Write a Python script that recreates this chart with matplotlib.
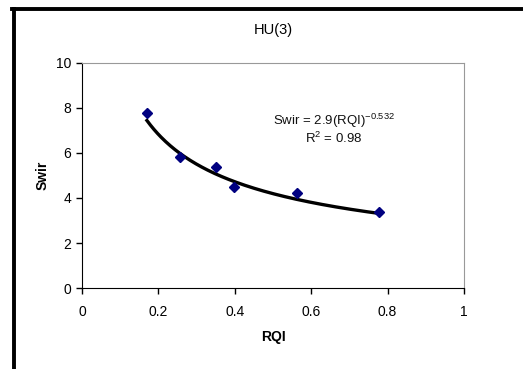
import numpy as np
import matplotlib.pyplot as plt
from matplotlib.lines import Line2D

plt.rcParams['font.family'] = ['Liberation Sans', 'DejaVu Sans']
plt.rcParams['mathtext.fontset'] = 'custom'
plt.rcParams['mathtext.rm'] = 'Liberation Sans'

# data
rqi = [0.17, 0.257, 0.35, 0.398, 0.562, 0.778]
swir = [7.77, 5.83, 5.39, 4.51, 4.21, 3.36]

# power trend line shown in the chart
coef_a = 2.9
coef_b = -0.532
r2 = 0.98

x_ticks = [0, 0.2, 0.4, 0.6, 0.8, 1]
y_ticks = [0, 2, 4, 6, 8, 10]

fig = plt.figure(figsize=(5.23, 3.69), dpi=100)
ax = fig.add_axes([0.1568, 0.2195, 0.7304, 0.6098])

xs = np.linspace(min(rqi), max(rqi), 200)
ax.plot(xs, coef_a * xs ** coef_b, color='black', lw=2.4, zorder=2)
ax.plot(rqi, swir, linestyle='none', marker='D', markersize=5,
        color='#000080', zorder=3)

ax.set_xlim(0, 1)
ax.set_ylim(0, 10)
ax.set_xticks(x_ticks)
ax.set_xticklabels(['0', '0.2', '0.4', '0.6', '0.8', '1'])
ax.set_yticks(y_ticks)
ax.tick_params(direction='out', length=4, width=1, labelsize=10, pad=8)
ax.tick_params(axis='y', pad=4)

for s in ['top', 'right']:
    ax.spines[s].set_color('#999999')
for s in ['left', 'bottom']:
    ax.spines[s].set_color('black')

ax.set_title('HU(3)', fontsize=10.5, pad=21)
ax.set_xlabel('RQI', fontsize=10, fontweight='bold', labelpad=8)
ax.set_ylabel('Swir', fontsize=10, fontweight='bold', labelpad=4)

ax.text(0.66, 7.43, 'Swir = %.1f(RQI)$^{\\mathregular{%.3f}}$' % (coef_a, coef_b),
        ha='center', va='center', fontsize=9.5, color='#111111')
ax.text(0.66, 6.65, 'R$^{\\mathregular{2}}$ = %.2f' % r2, ha='center', va='center',
        fontsize=9.5, color='#111111')

# outer frame of the original figure
fig.add_artist(Line2D([13.5 / 523, 13.5 / 523], [0, 1 - 9 / 369],
                      color='black', lw=2.8, transform=fig.transFigure))
fig.add_artist(Line2D([12 / 523, 1], [1 - 9 / 369, 1 - 9 / 369],
                      color='black', lw=2.8, transform=fig.transFigure))

fig.savefig('out.png', dpi=100)
